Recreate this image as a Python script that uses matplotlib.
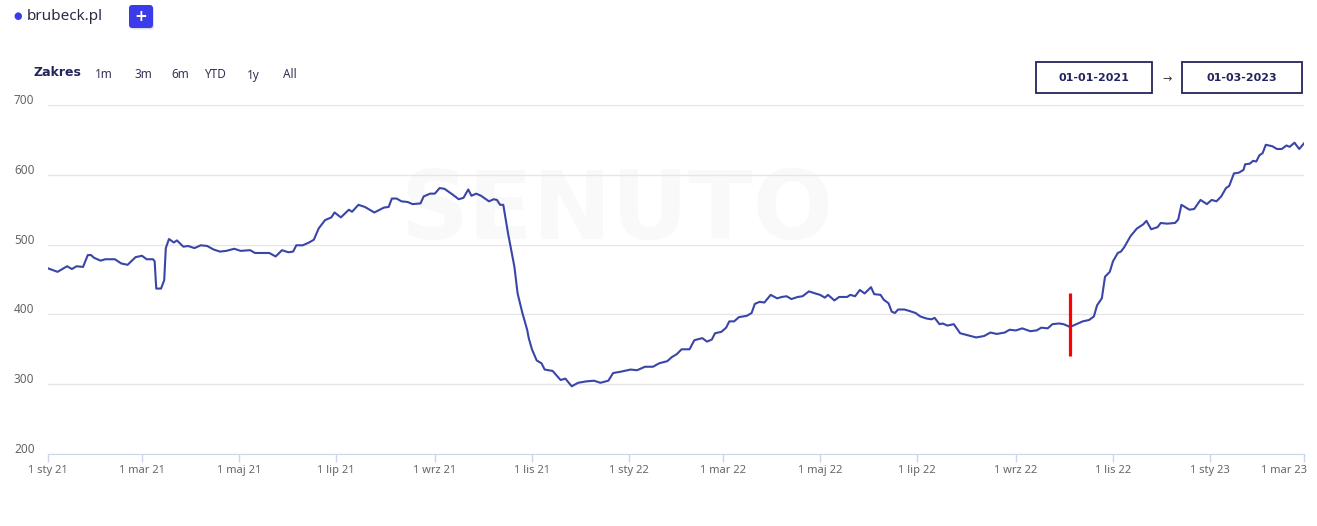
import pandas as pd
import matplotlib
matplotlib.use('Agg')
import matplotlib.pyplot as plt
from matplotlib.patches import FancyBboxPatch, Rectangle
from matplotlib.transforms import ScaledTranslation

plt.rcParams['font.family'] = ['Noto Sans', 'DejaVu Sans']

# dane: liczba dni od 2021-01-01 i wartosc
start = pd.Timestamp('2021-01-01')
end = pd.Timestamp('2023-03-01')

days = [0, 6, 12, 15, 18, 22, 25, 27, 29, 33, 36, 42, 46, 50, 55, 59, 62, 66, 67, 68,
        71, 73, 74, 76, 79, 81, 85, 88, 92, 96, 100, 104, 108, 112, 117, 121, 127, 130, 135, 139,
        143, 147, 151, 154, 156, 160, 164, 167, 170, 174, 178, 180, 184, 189, 191, 195, 199, 205, 211, 214,
        216, 219, 222, 226, 229, 234, 236, 240, 243, 246, 249, 254, 258, 261, 264, 266, 269, 272, 277, 280,
        282, 284, 286, 289, 291, 293, 295, 298, 301, 302, 304, 307, 310, 312, 317, 322, 325, 329, 333, 338,
        343, 347, 352, 355, 360, 366, 370, 375, 380, 384, 389, 392, 395, 398, 403, 406, 411, 414, 417, 419,
        423, 426, 428, 431, 434, 439, 442, 444, 447, 450, 454, 458, 461, 464, 467, 471, 474, 478, 482, 485,
        488, 490, 494, 497, 502, 504, 507, 510, 513, 517, 519, 523, 525, 528, 530, 532, 534, 538, 541, 545,
        548, 552, 555, 557, 560, 562, 565, 569, 573, 578, 583, 588, 592, 596, 601, 604, 608, 612, 617, 621,
        624, 628, 631, 635, 638, 642, 646, 650, 654, 657, 659, 662, 664, 667, 669, 672, 674, 676, 680, 684,
        688, 690, 693, 697, 699, 703, 708, 710, 712, 717, 720, 724, 728, 731, 734, 737, 740, 742, 745, 748,
        751, 752, 755, 757, 759, 761, 763, 765, 769, 772, 775, 778, 780, 783, 786, 789]
values = [466, 461, 469, 465, 469, 468, 485, 485, 481, 477, 479, 479, 473, 471, 482, 484, 479, 479, 476, 437,
          437, 449, 495, 508, 503, 506, 497, 498, 495, 499, 498, 493, 490, 491, 494, 491, 492, 488, 488, 488,
          483, 492, 489, 490, 499, 499, 503, 507, 523, 535, 539, 546, 539, 550, 547, 557, 554, 546, 553, 554,
          566, 566, 562, 561, 558, 559, 569, 573, 573, 581, 580, 572, 565, 567, 579, 570, 573, 570, 562, 565,
          564, 557, 557, 516, 492, 468, 430, 402, 378, 366, 350, 334, 330, 321, 319, 306, 308, 297, 302, 304,
          305, 302, 305, 316, 318, 321, 320, 325, 325, 330, 333, 339, 343, 350, 350, 363, 366, 361, 364, 373,
          375, 381, 390, 390, 396, 398, 402, 415, 418, 417, 428, 423, 425, 426, 422, 425, 426, 433, 430, 428,
          424, 428, 420, 425, 425, 428, 426, 435, 430, 439, 429, 428, 421, 416, 404, 402, 407, 407, 405, 402,
          397, 394, 393, 395, 386, 387, 384, 386, 373, 370, 367, 369, 374, 372, 374, 378, 377, 380, 376, 377,
          381, 380, 386, 387, 386, 382, 386, 390, 392, 397, 413, 423, 454, 461, 476, 488, 490, 496, 512, 523,
          529, 534, 522, 525, 531, 530, 531, 536, 557, 550, 551, 564, 558, 564, 562, 569, 581, 584, 602, 603,
          607, 615, 616, 620, 619, 628, 631, 643, 641, 637, 637, 642, 640, 646, 637, 645]

marker_day = 642
marker_range = [340, 430]

tick_labels = ['1 sty 21', '1 mar 21', '1 maj 21', '1 lip 21', '1 wrz 21', '1 lis 21', '1 sty 22',
               '1 mar 22', '1 maj 22', '1 lip 22', '1 wrz 22', '1 lis 22', '1 sty 23', '1 mar 23']
y_ticks = [200, 300, 400, 500, 600, 700]
range_buttons = ['1m', '3m', '6m', 'YTD', '1y', 'All']
date_from = '01-01-2021'
date_to = '01-03-2023'

W, H = 1317, 526
navy = '#24245c'
line_color = '#3a45a8'
bold_font = ['DejaVu Sans']

fig = plt.figure(figsize=(W / 100, H / 100), dpi=100)
ax = fig.add_axes([48 / W, 1 - 454 / H, (1304 - 48) / W, (454 - 105) / H])

dates = start + pd.to_timedelta(days, unit='D')

# znak wodny
ax.text(0.453, 0.69, 'SENUTO', transform=ax.transAxes, fontsize=68, fontweight='bold',
        color='#f9f9f9', ha='center', va='center', zorder=0, family='DejaVu Sans')

ax.plot(dates, values, color=line_color, lw=1.5, zorder=3)
ax.vlines(start + pd.Timedelta(days=marker_day), marker_range[0], marker_range[1],
          color='#ff0000', lw=2.3, zorder=4)

ax.set_xlim(start, end)
ax.set_ylim(200, 700)

# os X
tick_dates = pd.date_range(start, end, freq='2MS')
ax.set_xticks(tick_dates)
ax.set_xticklabels(tick_labels)
ax.tick_params(axis='x', length=6, width=1, color='#ccd6eb', labelsize=8, labelcolor='#666666', pad=2)
last = ax.get_xticklabels()[-1]
last.set_ha('right')
last.set_transform(last.get_transform() + ScaledTranslation(0.03, 0, fig.dpi_scale_trans))

# os Y
ax.set_yticks(y_ticks)
ax.set_yticklabels([str(v) for v in y_ticks])
ax.tick_params(axis='y', length=0, labelsize=8.5, labelcolor='#666666', pad=24.5)
for lab in ax.get_yticklabels():
    lab.set_ha('left')
    lab.set_transform(lab.get_transform() + ScaledTranslation(0, 0.06, fig.dpi_scale_trans))
ax.yaxis.grid(True, color='#e6e6e6', lw=1)
ax.set_axisbelow(True)

for s in ['top', 'right', 'left']:
    ax.spines[s].set_visible(False)
ax.spines['bottom'].set_color('#ccd6eb')

# naglowek
def px(x, y):
    return x / W, 1 - y / H

fig.text(*px(18, 16), '\u25cf', color='#3b3bea', fontsize=7, ha='center', va='center')
fig.text(*px(27, 16), 'brubeck.pl', color='#2b2b45', fontsize=11, ha='left', va='center')

shadow = FancyBboxPatch((130 / 100, (H - 29.5) / 100), 0.24, 0.23,
                        boxstyle='round,pad=0,rounding_size=0.03', transform=fig.dpi_scale_trans,
                        facecolor='#c8c8dc', edgecolor='none', alpha=0.6)
fig.patches.append(shadow)
btn = FancyBboxPatch((129 / 100, (H - 28) / 100), 0.24, 0.23,
                     boxstyle='round,pad=0,rounding_size=0.03', transform=fig.dpi_scale_trans,
                     facecolor='#3b3bea', edgecolor='none')
fig.patches.append(btn)
fig.text(*px(141, 16.5), '+', color='white', fontsize=11, fontweight='bold', ha='center', va='center',
         family=bold_font)

fig.text(*px(33, 73), 'Zakres', color=navy, fontsize=9, fontweight='bold', ha='left', va='center',
         family=bold_font)
for lab, cx in zip(range_buttons, [104, 143, 180, 215, 253, 290]):
    fig.text(*px(cx, 75), lab, color='#333355', fontsize=8.5, ha='center', va='center')

for (x0, x1), lab in zip([(1036, 1152), (1182, 1302)], [date_from, date_to]):
    rect = Rectangle((x0 / 100, (H - 93) / 100), (x1 - x0) / 100, 0.31,
                     transform=fig.dpi_scale_trans, facecolor='white', edgecolor=navy, lw=1.3)
    fig.patches.append(rect)
    fig.text(*px((x0 + x1) / 2, 78), lab, color=navy, fontsize=8, fontweight='bold',
             ha='center', va='center', family=bold_font)
fig.text(*px(1167, 80), '\u2192', color='#333333', fontsize=8, ha='center', va='center')

fig.savefig('out.png', dpi=100, facecolor='white')
